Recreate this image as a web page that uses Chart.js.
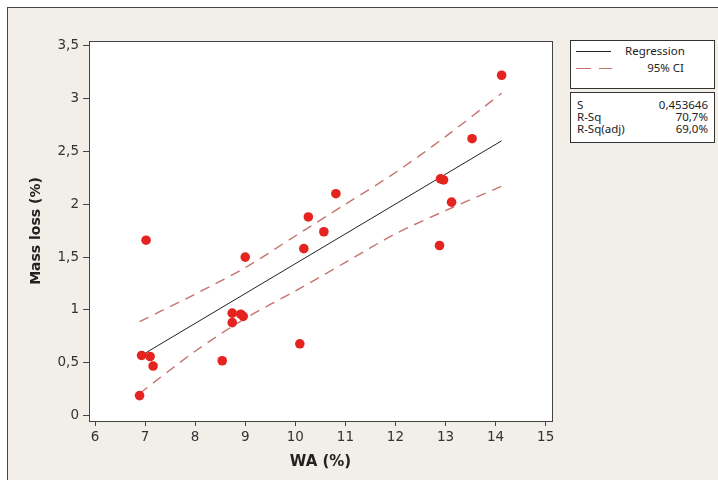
<!DOCTYPE html>
<html>
<head>
<meta charset="utf-8">
<script src="https://cdn.jsdelivr.net/npm/chart.js@4.4.1/dist/chart.umd.min.js"></script>
<style>
  body { margin: 0; background: #fff; overflow: hidden; }
  #frame { position: absolute; left: 7px; top: 7px; width: 720px; height: 480px;
           border-left: 1px solid #444; border-top: 1px solid #444; background: #f2efe8; }
  #chart { position: absolute; left: 0; top: 0; }
  .box { position: absolute; left: 570px; width: 143px; background: #fff; border: 1px solid #333;
         font-family: "Noto Sans", sans-serif; font-size: 11.5px; color: #222; }
  .txt { position: absolute; line-height: 12px; white-space: nowrap; }
  .sample { position: absolute; height: 0; }
</style>
</head>
<body>
<div id="frame"></div>
<canvas id="chart" width="718" height="480"></canvas>

<div class="box" style="top:40px;height:47px;">
  <div class="sample" style="left:5px;top:10px;width:35px;border-top:1px solid #222;"></div>
  <div class="txt" style="left:54px;top:4px;">Regression</div>
  <div class="sample" style="left:5px;top:27px;width:15px;border-top:1px solid #c4746f;"></div>
  <div class="sample" style="left:28px;top:27px;width:13px;border-top:1px solid #c4746f;"></div>
  <div class="txt" style="right:30px;top:21px;">95% CI</div>
</div>
<div class="box" style="top:92px;height:49px;">
  <div class="txt" style="left:6px;top:6px;">S</div>
  <div class="txt" style="right:6px;top:6px;">0,453646</div>
  <div class="txt" style="left:6px;top:18px;">R-Sq</div>
  <div class="txt" style="right:6px;top:18px;">70,7%</div>
  <div class="txt" style="left:6px;top:30px;">R-Sq(adj)</div>
  <div class="txt" style="right:6px;top:30px;">69,0%</div>
</div>

<script>
// measured points
const waValues = [6.89, 6.93, 7.02, 7.10, 7.16, 8.54, 8.74, 8.74, 8.91, 8.96, 9.00,
                  10.09, 10.17, 10.26, 10.57, 10.81, 12.88, 12.90, 12.96, 13.12, 13.53, 14.12];
const massLoss = [0.19, 0.57, 1.66, 0.56, 0.47, 0.52, 0.97, 0.88, 0.96, 0.94, 1.50,
                  0.68, 1.58, 1.88, 1.74, 2.10, 1.61, 2.24, 2.23, 2.02, 2.62, 3.22];

// fitted line and 95% CI
const fitX = [6.89, 14.12];
const fitY = [0.56, 2.60];
const ciX = [6.89, 8, 9, 10, 11, 12, 13, 14.12];
const ciUpper = [0.89, 1.15, 1.40, 1.70, 2.00, 2.30, 2.64, 3.05];
const ciLower = [0.21, 0.61, 0.92, 1.18, 1.45, 1.72, 1.94, 2.17];

const xTicks = [6, 7, 8, 9, 10, 11, 12, 13, 14, 15];
const yTicks = [0, 0.5, 1, 1.5, 2, 2.5, 3, 3.5];

function pairs(xs, ys) {
    return xs.map((x, i) => ({x: x, y: ys[i]}));
}

const plotFrame = {
    id: 'plotFrame',
    beforeDatasetsDraw(chart) {
        const a = chart.chartArea;
        const ctx = chart.ctx;
        ctx.save();
        ctx.fillStyle = '#fff';
        ctx.fillRect(a.left, a.top, a.right - a.left, a.bottom - a.top);
        ctx.restore();
    },
    afterDraw(chart) {
        const a = chart.chartArea;
        const ctx = chart.ctx;
        ctx.save();
        ctx.strokeStyle = '#444';
        ctx.lineWidth = 1;
        ctx.strokeRect(Math.round(a.left) + 0.5, Math.round(a.top) + 0.5,
                       Math.round(a.right - a.left), Math.round(a.bottom - a.top));
        ctx.restore();
    }
};

const tickFont = {family: 'DejaVu Sans', size: 13.5};
const commaLabel = v => String(v).replace('.', ',');

new Chart(document.getElementById('chart'), {
    type: 'scatter',
    data: {
        datasets: [
            {
                data: pairs(waValues, massLoss),
                backgroundColor: '#e5231f',
                borderWidth: 0,
                pointRadius: 4.8
            },
            {
                data: pairs(fitX, fitY),
                showLine: true,
                borderColor: '#222',
                borderWidth: 1,
                pointRadius: 0
            },
            {
                data: pairs(ciX, ciUpper),
                showLine: true,
                borderColor: '#c4746f',
                borderWidth: 1.4,
                borderDash: [10, 7],
                tension: 0.3,
                pointRadius: 0
            },
            {
                data: pairs(ciX, ciLower),
                showLine: true,
                borderColor: '#c4746f',
                borderWidth: 1.4,
                borderDash: [10, 7],
                tension: 0.3,
                pointRadius: 0
            }
        ]
    },
    options: {
        responsive: false,
        animation: false,
        devicePixelRatio: 1,
        layout: {padding: {left: 0, top: 41, right: 166, bottom: 0}},
        plugins: {legend: {display: false}, tooltip: {enabled: false}},
        scales: {
            x: {
                type: 'linear',
                min: 5.88,
                max: 15.126,
                afterBuildTicks: s => { s.ticks = xTicks.map(v => ({value: v})); },
                afterFit: s => { s.height = 59; },
                grid: {drawOnChartArea: false, drawTicks: true, tickLength: 5, color: '#444'},
                border: {display: false},
                ticks: {font: tickFont, color: '#333', padding: 3, maxRotation: 0, callback: commaLabel},
                title: {display: true, text: 'WA (%)', color: '#222', padding: {top: 0, bottom: 9},
                        font: {family: 'DejaVu Sans', size: 15, weight: 'bold'}}
            },
            y: {
                type: 'linear',
                min: -0.05,
                max: 3.544,
                afterBuildTicks: s => { s.ticks = yTicks.map(v => ({value: v})); },
                afterFit: s => { s.width = 89; },
                grid: {drawOnChartArea: false, drawTicks: true, tickLength: 6, color: '#444'},
                border: {display: false},
                ticks: {font: tickFont, color: '#333', padding: 4, callback: commaLabel},
                title: {display: true, text: 'Mass loss (%)', color: '#222', padding: {top: 28, bottom: 0},
                        font: {family: 'DejaVu Sans', size: 14, weight: 'bold'}}
            }
        }
    },
    plugins: [plotFrame]
});
</script>
</body>
</html>
